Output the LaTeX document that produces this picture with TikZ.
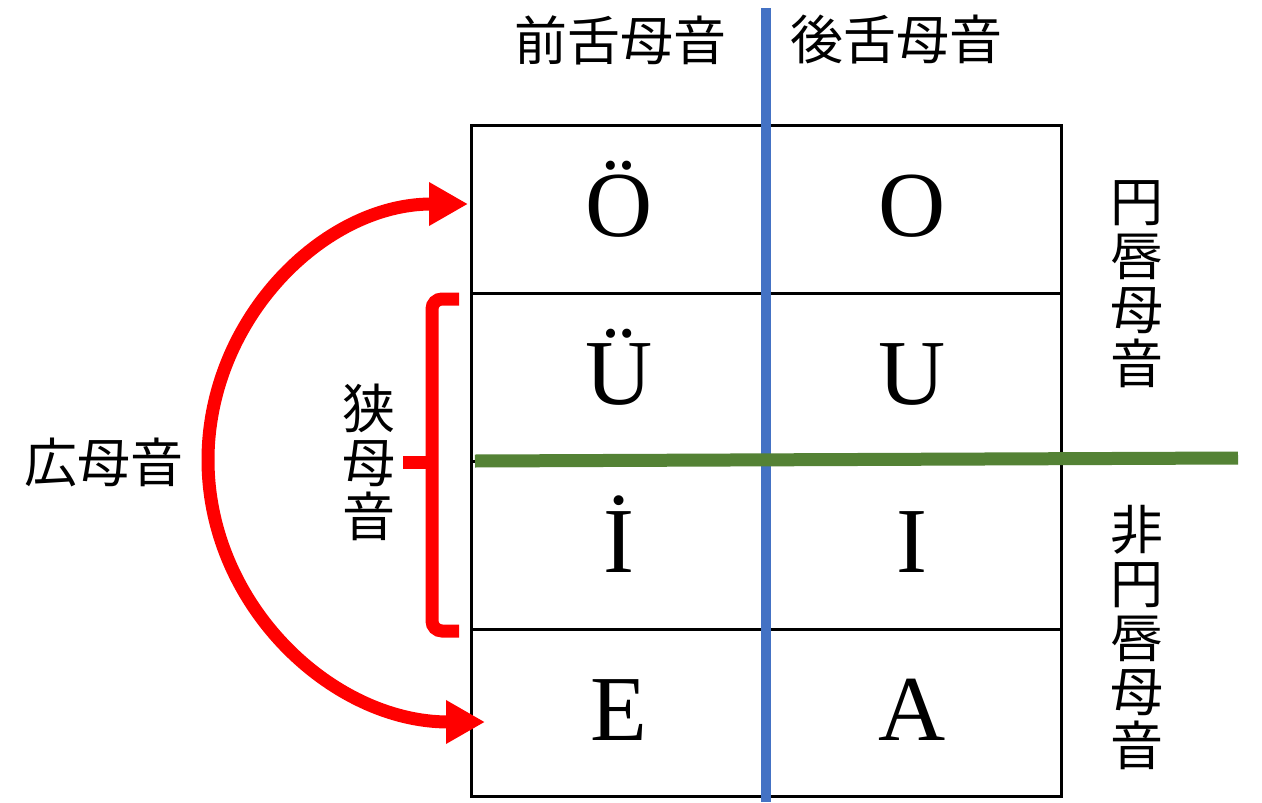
\documentclass[tikz,border=0pt]{standalone}
\usepackage{fontspec}
\setmainfont{Liberation Serif}
\newfontfamily\cjk{Noto Sans CJK JP}
\usetikzlibrary{arrows.meta}
\definecolor{vblue}{HTML}{4472C4}
\definecolor{vgreen}{HTML}{548235}
\definecolor{vred}{HTML}{FF0000}
\tikzset{
  letter/.style={anchor=base, inner sep=0pt, font=\fontsize{93}{93}\selectfont},
  cjklabel/.style={inner sep=0pt, font=\cjk\fontsize{53}{53}\selectfont},
  cjkvert/.style={inner sep=0pt, align=center, font=\cjk\fontsize{53}{54}\selectfont},
  gridline/.style={line width=3pt, black},
  redstroke/.style={vred, line width=13pt},
}
\begin{document}
\begin{tikzpicture}[x=1pt,y=-1pt]
\useasboundingbox (0,0) rectangle (1262,803);
\fill[white] (0,0) rectangle (1262,803);
% grid
\coordinate (g1) at (471,125);
\coordinate (g2) at (1061,796);
\draw[gridline] (g1) rectangle (g2);
\draw[gridline] (471,293) -- (1061,293);
\draw[gridline] (471,461) -- (1061,461);
\draw[gridline] (471,629) -- (1061,629);
% blue vertical
\coordinate (bt) at (765.5,8);
\coordinate (bb) at (765.5,802);
\draw[vblue, line width=10pt] (bt) -- (bb);
% green horizontal
\coordinate (gl) at (475,461);
\coordinate (gr) at (1238,458);
\draw[vgreen, line width=13pt] (gl) -- (gr);
% letters
\node[letter] (oo) at (619,236) {Ö};
\node[letter] (o) at (912,236) {O};
\node[letter] (uu) at (619,404) {Ü};
\node[letter] (u) at (912,404) {U};
\node[letter] (ii) at (619,572) {İ};
\node[letter] (i) at (912,572) {I};
\node[letter] (e) at (619,740) {E};
\node[letter] (a) at (912,740) {A};
% headers
\node[cjklabel] (front) at (620,40) {前舌母音};
\node[cjklabel] (back) at (896,40) {後舌母音};
\node[cjklabel] (wide) at (104,462) {広母音};
\node[cjkvert] (narrow) at (369,462) {狭\\母\\音};
\node[cjkvert] (round) at (1137,284) {円\\唇\\母\\音};
\node[cjkvert] (unround) at (1137,638) {非\\円\\唇\\母\\音};
% bracket
\coordinate (bk1) at (459,299);
\coordinate (bk2) at (459,631);
\draw[redstroke, rounded corners=10pt] (bk1) -- (432,299) -- (432,631) -- (bk2);
\coordinate (bkm) at (432,462);
\coordinate (bktip) at (403,462);
\draw[redstroke] (bkm) -- (bktip);
% arc arrow
\coordinate (atop) at (468,204);
\coordinate (aleft) at (208,460);
\coordinate (abot) at (485,722);
\draw[redstroke, {Triangle[length=39pt,width=41pt]}-{Triangle[length=39pt,width=41pt]}]
  (atop) .. controls (324,204) and (208,319) .. (aleft)
  .. controls (208,605) and (332,722) .. (abot);
\end{tikzpicture}
\end{document}
